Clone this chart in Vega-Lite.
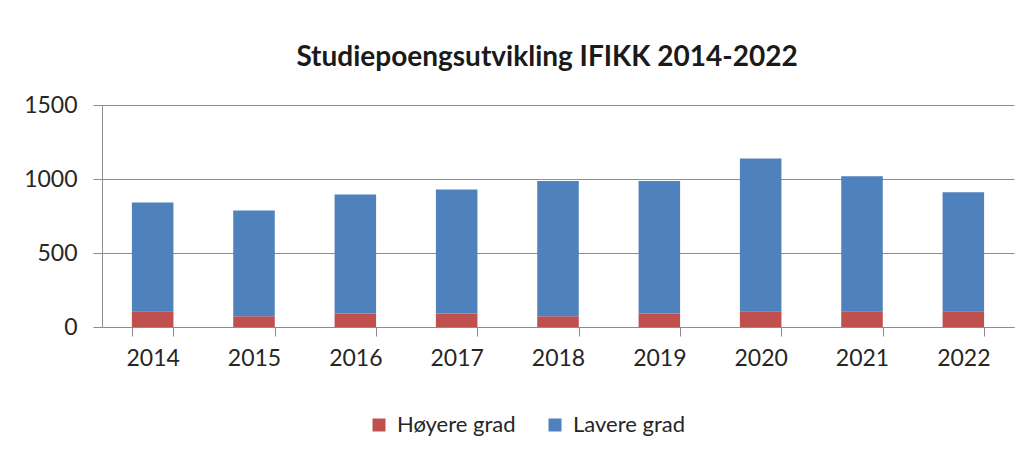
{
  "$schema": "https://vega.github.io/schema/vega-lite/v6.json",
  "autosize": "none",
  "width": 912,
  "height": 222,
  "padding": {"left": 102, "top": 105, "right": 18, "bottom": 135},
  "background": "white",
  "config": {
    "view": {"stroke": null},
    "font": "Lato"
  },
  "title": {
    "text": "Studiepoengsutvikling IFIKK 2014-2022",
    "font": "Lato",
    "fontSize": 28,
    "fontWeight": "bold",
    "color": "#1a1a1a",
    "anchor": "middle",
    "dx": -11,
    "offset": 22
  },
  "data": {
    "values": [
      {"year": "2014", "grad": "Høyere grad", "poeng": 106},
      {"year": "2014", "grad": "Lavere grad", "poeng": 736},
      {"year": "2015", "grad": "Høyere grad", "poeng": 73},
      {"year": "2015", "grad": "Lavere grad", "poeng": 715},
      {"year": "2016", "grad": "Høyere grad", "poeng": 91},
      {"year": "2016", "grad": "Lavere grad", "poeng": 805},
      {"year": "2017", "grad": "Høyere grad", "poeng": 91},
      {"year": "2017", "grad": "Lavere grad", "poeng": 838},
      {"year": "2018", "grad": "Høyere grad", "poeng": 73},
      {"year": "2018", "grad": "Lavere grad", "poeng": 914},
      {"year": "2019", "grad": "Høyere grad", "poeng": 91},
      {"year": "2019", "grad": "Lavere grad", "poeng": 896},
      {"year": "2020", "grad": "Høyere grad", "poeng": 106},
      {"year": "2020", "grad": "Lavere grad", "poeng": 1032},
      {"year": "2021", "grad": "Høyere grad", "poeng": 106},
      {"year": "2021", "grad": "Lavere grad", "poeng": 913},
      {"year": "2022", "grad": "Høyere grad", "poeng": 106},
      {"year": "2022", "grad": "Lavere grad", "poeng": 805}
    ]
  },
  "mark": {"type": "bar"},
  "encoding": {
    "x": {
      "field": "year",
      "type": "ordinal",
      "scale": {"paddingInner": 0.59, "paddingOuter": 0.295},
      "axis": {
        "title": null,
        "labelAngle": 0,
        "tickBand": "extent",
        "labelFont": "Lato",
        "labelFontSize": 23,
        "labelColor": "#262626",
        "labelPadding": 11,
        "tickSize": 9,
        "tickColor": "#8c8c8c",
        "domainColor": "#8c8c8c",
        "grid": false
      }
    },
    "y": {
      "field": "poeng",
      "type": "quantitative",
      "stack": "zero",
      "scale": {"domain": [0, 1500], "nice": false},
      "axis": {
        "title": null,
        "values": [0, 500, 1000, 1500],
        "format": "d",
        "labelFont": "Lato",
        "labelFontSize": 23,
        "labelColor": "#262626",
        "labelPadding": 16,
        "tickSize": 9,
        "tickColor": "#8c8c8c",
        "domainColor": "#8c8c8c",
        "gridColor": "#8c8c8c",
        "gridOpacity": 1
      }
    },
    "color": {
      "field": "grad",
      "type": "nominal",
      "scale": {"domain": ["Høyere grad", "Lavere grad"], "range": ["#C0504D", "#4F81BD"]},
      "legend": {
        "title": null,
        "orient": "none",
        "direction": "horizontal",
        "legendX": 266,
        "legendY": 309,
        "symbolType": "square",
        "symbolSize": 169,
        "symbolStrokeWidth": 0,
        "labelFont": "Lato",
        "labelFontSize": 22,
        "labelColor": "#262626",
        "labelOffset": 7,
        "columnPadding": 28
      }
    },
    "order": {"field": "grad", "sort": "ascending"}
  }
}
